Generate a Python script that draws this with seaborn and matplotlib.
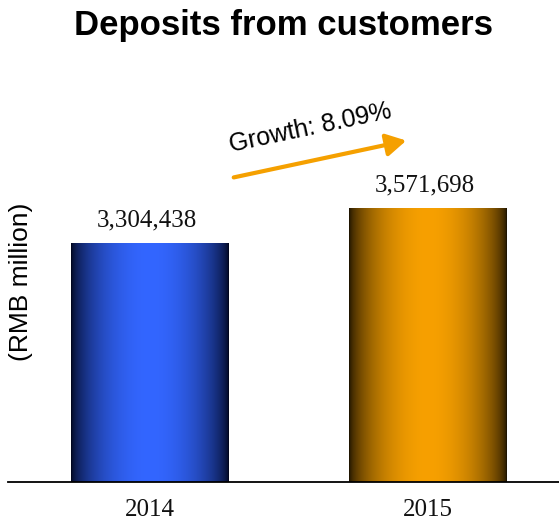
import numpy as np
import matplotlib
matplotlib.use("Agg")
import matplotlib.pyplot as plt
import seaborn as sns

# Deposits from customers (RMB million)
years = ["2014", "2015"]
deposits = [3304438, 3571698]
growth_label = "Growth: 8.09%"
bar_colors = ["#3366FF", "#F7A000"]
edge_colors = ["#00041A", "#1A1100"]

sns.set_theme(style="white")
plt.rcParams["font.family"] = ["Liberation Sans", "DejaVu Sans"]
plt.rcParams["text.color"] = "black"
plt.rcParams["xtick.color"] = "black"

fig = plt.figure(figsize=(5.59, 5.20), dpi=100)
ax = fig.add_axes([8 / 559, 38 / 520, 551 / 559, 382 / 520])

sns.barplot(x=years, y=deposits, hue=years, palette=bar_colors,
            width=0.565, legend=False, ax=ax, saturation=1)

ymin, ymax = 1_500_000, 4_384_000

# horizontal shading: dark at both edges, bright in the middle
t = np.linspace(0, 1, 256)
profile = np.sin(np.pi * t) ** 0.6
for patch, c_mid, c_edge in zip(ax.patches, bar_colors, edge_colors):
    mid = np.array(matplotlib.colors.to_rgb(c_mid))
    edge = np.array(matplotlib.colors.to_rgb(c_edge))
    grad = edge[None, :] + (mid - edge)[None, :] * profile[:, None]
    x0 = patch.get_x()
    x1 = x0 + patch.get_width()
    top = patch.get_height()
    img = ax.imshow(grad[None, :, :], extent=(x0, x1, ymin, top),
                    aspect="auto", zorder=patch.get_zorder() + 0.1,
                    interpolation="bilinear")
    img.set_clip_path(patch)
    ax.annotate(f"{top:,.0f}", xy=(patch.get_x() + patch.get_width() / 2, top),
                xytext=(-2, 8), textcoords="offset points",
                ha="center", va="bottom", fontsize=18,
                family=["Liberation Serif"], color="#111111")

ax.set_xlim(-0.509, 1.473)
ax.set_ylim(ymin, ymax)
ax.set_yticks([])
ax.set_xlabel("")
ax.set_ylabel("")
ax.tick_params(axis="x", length=0, pad=12)
for lbl in ax.get_xticklabels():
    lbl.set_fontfamily(["Liberation Serif"])
    lbl.set_fontsize(18)
    lbl.set_color("#111111")
for side in ["top", "right", "left"]:
    ax.spines[side].set_visible(False)
ax.spines["bottom"].set_color("black")
ax.spines["bottom"].set_linewidth(1.3)
ax.set_facecolor("white")

fig.text(283 / 559, 1 - 26 / 520, "Deposits from customers",
         ha="center", va="center", fontsize=25, fontweight="bold")
fig.text(21 / 559, 1 - 282 / 520, "(RMB million)", rotation=90,
         ha="center", va="center", fontsize=19)

# growth arrow between the two years
fig.patches.append(matplotlib.patches.FancyArrowPatch(
    (231 / 559, 1 - 178 / 520), (409 / 559, 1 - 140 / 520),
    transform=fig.transFigure, arrowstyle="-|>,head_length=8,head_width=4.5",
    color="#F5A000", linewidth=3, mutation_scale=1.5))
fig.text(310 / 559, 1 - 128 / 520, growth_label, rotation=12,
         ha="center", va="center", fontsize=18, rotation_mode="anchor")

fig.savefig("out.png", dpi=100, facecolor="white")
